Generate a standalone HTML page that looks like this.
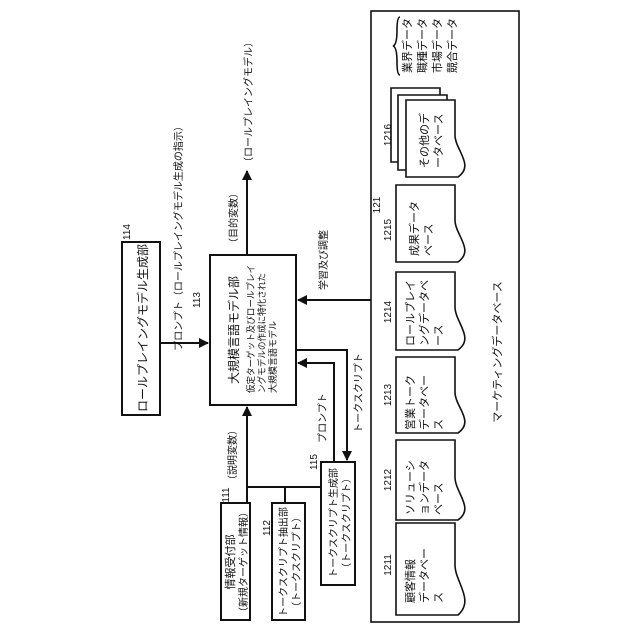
<!DOCTYPE html>
<html><head><meta charset="utf-8"><style>
body{margin:0;background:#fff}
svg{display:block}
text{font-family:"Liberation Sans","Noto Sans CJK JP",sans-serif;fill:#111}
</style></head><body>
<svg width="640" height="640" viewBox="0 0 640 640" xmlns="http://www.w3.org/2000/svg">
<defs>
<marker id="a" markerWidth="10" markerHeight="10" refX="9" refY="5" orient="auto" markerUnits="userSpaceOnUse"><path d="M0,0 L10,5 L0,10 Z" fill="#111"/></marker>
</defs>
<g fill="none" stroke="#111" stroke-width="2">
<rect x="371" y="11" width="148" height="611" stroke-width="1.6"/>
<rect x="122" y="242" width="38" height="173"/>
<rect x="210" y="255" width="86" height="150"/>
<rect x="321" y="462" width="34" height="123"/>
<rect x="221" y="503" width="29" height="117"/>
<rect x="272" y="503" width="33" height="117"/>
<line x1="160" y1="343" x2="208" y2="343" marker-end="url(#a)"/>
<line x1="247" y1="255" x2="247" y2="171" marker-end="url(#a)"/>
<line x1="371" y1="300" x2="298" y2="300" marker-end="url(#a)"/>
<polyline points="296,350 347,350 347,460" marker-end="url(#a)"/>
<polyline points="334,462 334,363 298,363" marker-end="url(#a)"/>
<line x1="247" y1="503" x2="247" y2="407" marker-end="url(#a)"/>
<polyline points="247,487 321,487"/>
<line x1="285" y1="487" x2="285" y2="503"/>
</g>
<g fill="#fff" stroke="#111" stroke-width="1.6">
<path d="M391,88 H440 V162 H391 Z"/>
<path d="M398,95 H447 V170 H398 Z"/>
<path d="M406,100 H455 V135 C455,150 475,165 458,177 H406 Z"/>
<path d="M396,185 H455 V220 C455,235 475,250 458,262 H396 Z"/>
<path d="M396,272 H455 V307 C455,322 475,338 458,350 H396 Z"/>
<path d="M396,357 H455 V392 C455,407 475,421 458,433 H396 Z"/>
<path d="M396,440 H455 V477 C455,493 475,508 458,520 H396 Z"/>
<path d="M396,523 H455 V565 C455,582 475,600 458,615 H396 Z"/>
<path d="M400,17 Q397,17 397,30 Q397,45 393,46 Q397,47 397,62 Q397,75 400,75" fill="none"/>
</g>
<g font-size="11">
<text transform="translate(147,328) rotate(-90)" text-anchor="middle" font-size="12">ロールプレイングモデル生成部</text>
<text transform="translate(182,236) rotate(-90)" text-anchor="middle" font-size="10">プロンプト（ロールプレイングモデル生成の指示）</text>
<text transform="translate(130,232) rotate(-90)" text-anchor="middle" font-size="10">114</text>
<text transform="translate(200,300) rotate(-90)" text-anchor="middle" font-size="10">113</text>
<text transform="translate(238,330) rotate(-90)" text-anchor="middle" font-size="12">大規模言語モデル部</text>
<text transform="translate(254,393) rotate(-90)" font-size="9" textLength="128" lengthAdjust="spacingAndGlyphs">仮定ターゲット及びロールプレイ</text>
<text transform="translate(265,393) rotate(-90)" font-size="9" textLength="120" lengthAdjust="spacingAndGlyphs">ングモデルの作成に特化された</text>
<text transform="translate(276,393) rotate(-90)" font-size="9">大規模言語モデル</text>
<text transform="translate(237,218) rotate(-90)" text-anchor="middle" font-size="10">（目的変数）</text>
<text transform="translate(252,102) rotate(-90)" text-anchor="middle" font-size="10">（ロールプレイングモデル）</text>
<text transform="translate(380,205) rotate(-90)" text-anchor="middle" font-size="10">121</text>
<text transform="translate(327,260) rotate(-90)" text-anchor="middle" font-size="10">学習及び調整</text>
<text transform="translate(362,393) rotate(-90)" text-anchor="middle" font-size="10">トークスクリプト</text>
<text transform="translate(326,418) rotate(-90)" text-anchor="middle" font-size="10">プロンプト</text>
<text transform="translate(317,462) rotate(-90)" text-anchor="middle" font-size="10">115</text>
<text transform="translate(337,523) rotate(-90)" text-anchor="middle" font-size="10">トークスクリプト生成部</text>
<text transform="translate(350,523) rotate(-90)" text-anchor="middle" font-size="10">（トークスクリプト）</text>
<text transform="translate(236,455) rotate(-90)" text-anchor="middle" font-size="10">（説明変数）</text>
<text transform="translate(229,495) rotate(-90)" text-anchor="middle" font-size="10">111</text>
<text transform="translate(270,528) rotate(-90)" text-anchor="middle" font-size="10">112</text>
<text transform="translate(234,562) rotate(-90)" text-anchor="middle">情報受付部</text>
<text transform="translate(247,562) rotate(-90)" text-anchor="middle" font-size="10">（新規ターゲット情報）</text>
<text transform="translate(287,562) rotate(-90)" text-anchor="middle" font-size="10">トークスクリプト抽出部</text>
<text transform="translate(300,562) rotate(-90)" text-anchor="middle" font-size="10">（トークスクリプト）</text>
<text transform="translate(501,352) rotate(-90)" text-anchor="middle">マーケティングデータベース</text>
</g>
<g font-size="10">
<text transform="translate(391,565) rotate(-90)" text-anchor="middle">1211</text>
<text transform="translate(391,480) rotate(-90)" text-anchor="middle">1212</text>
<text transform="translate(391,395) rotate(-90)" text-anchor="middle">1213</text>
<text transform="translate(391,312) rotate(-90)" text-anchor="middle">1214</text>
<text transform="translate(391,230) rotate(-90)" text-anchor="middle">1215</text>
<text transform="translate(391,135) rotate(-90)" text-anchor="middle">1216</text>
<g font-size="11">
<text transform="translate(414,603) rotate(-90)">顧客情報</text>
<text transform="translate(428,603) rotate(-90)">データベー</text>
<text transform="translate(442,603) rotate(-90)">ス</text>
<text transform="translate(414,515) rotate(-90)">ソリューシ</text>
<text transform="translate(428,515) rotate(-90)">ョンデータ</text>
<text transform="translate(442,515) rotate(-90)">ベース</text>
<text transform="translate(414,430) rotate(-90)">営業トーク</text>
<text transform="translate(428,430) rotate(-90)">データベー</text>
<text transform="translate(442,430) rotate(-90)">ス</text>
<text transform="translate(414,346) rotate(-90)">ロールプレイ</text>
<text transform="translate(428,346) rotate(-90)">ングデータベ</text>
<text transform="translate(442,346) rotate(-90)">ース</text>
<text transform="translate(418,256) rotate(-90)">成果データ</text>
<text transform="translate(432,256) rotate(-90)">ベース</text>
<text transform="translate(428,168) rotate(-90)">その他のデ</text>
<text transform="translate(442,168) rotate(-90)">ータベース</text>
<text transform="translate(411,73) rotate(-90)">業界データ</text>
<text transform="translate(426,73) rotate(-90)">職種データ</text>
<text transform="translate(441,73) rotate(-90)">市場データ</text>
<text transform="translate(456,73) rotate(-90)">競合データ</text>
</g>
</g>
</svg>
</body></html>
